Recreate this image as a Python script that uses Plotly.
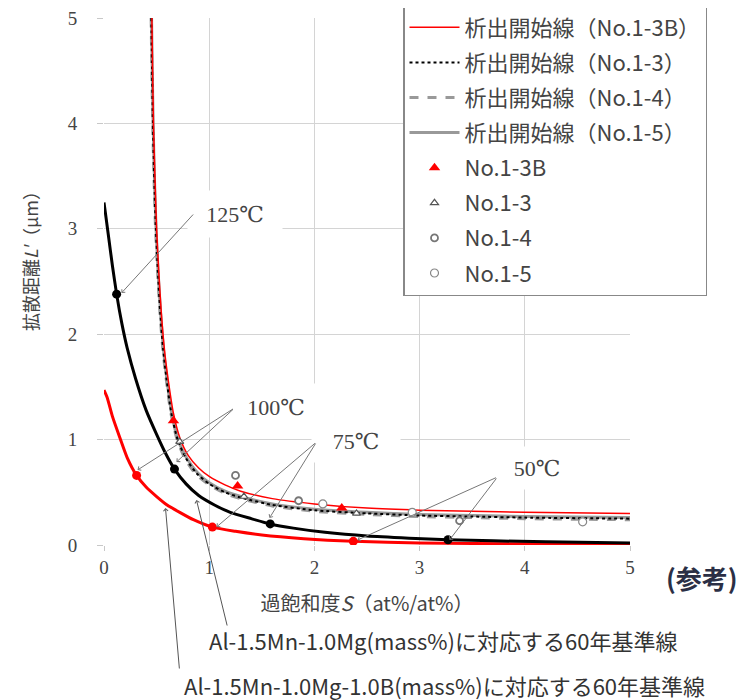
import plotly.graph_objects as go

# ---- data ----
# precipitation start lines (析出開始線)
s_3B = [0.455, 0.462, 0.47, 0.485, 0.50, 0.52, 0.545, 0.575, 0.61, 0.66, 0.72, 0.80, 0.90, 1.0, 1.15, 1.3, 1.6, 2.0, 2.5, 3.0, 3.5, 4.0, 5.0]
l_3B = [5.0, 4.5, 4.0, 3.46, 3.0, 2.6, 2.2, 1.85, 1.57, 1.25, 1.02, 0.85, 0.73, 0.65, 0.57, 0.51, 0.44, 0.39, 0.35, 0.33, 0.32, 0.31, 0.30]

s_3 = [0.45, 0.457, 0.465, 0.478, 0.493, 0.512, 0.535, 0.563, 0.595, 0.64, 0.70, 0.78, 0.88, 1.0, 1.15, 1.3, 1.6, 2.0, 2.5, 3.0, 3.5, 4.0, 5.0]
l_3 = [5.0, 4.5, 4.0, 3.46, 3.0, 2.6, 2.2, 1.85, 1.57, 1.25, 1.0, 0.82, 0.68, 0.58, 0.50, 0.45, 0.38, 0.33, 0.30, 0.28, 0.27, 0.26, 0.25]

s_4 = [0.448, 0.455, 0.463, 0.476, 0.49, 0.509, 0.532, 0.56, 0.592, 0.636, 0.695, 0.775, 0.875, 1.0, 1.15, 1.3, 1.6, 2.0, 2.5, 3.0, 3.5, 4.0, 5.0]
l_4 = [5.0, 4.5, 4.0, 3.46, 3.0, 2.6, 2.2, 1.85, 1.57, 1.25, 1.0, 0.81, 0.67, 0.57, 0.49, 0.44, 0.37, 0.32, 0.29, 0.27, 0.26, 0.25, 0.24]

s_5 = [0.452, 0.459, 0.467, 0.48, 0.495, 0.514, 0.538, 0.566, 0.598, 0.643, 0.703, 0.783, 0.885, 1.0, 1.15, 1.3, 1.6, 2.0, 2.5, 3.0, 3.5, 4.0, 5.0]
l_5 = [5.0, 4.5, 4.0, 3.46, 3.0, 2.6, 2.2, 1.85, 1.57, 1.25, 1.0, 0.83, 0.69, 0.59, 0.51, 0.46, 0.39, 0.34, 0.31, 0.29, 0.28, 0.27, 0.26]

# 60-year reference lines
s_ref_mg = [0.0, 0.04, 0.08, 0.12, 0.17, 0.22, 0.3, 0.4, 0.5, 0.58, 0.67, 0.78, 0.9, 1.05, 1.2, 1.4, 1.58, 1.8, 2.1, 2.5, 2.9, 3.27, 3.7, 4.2, 5.0]
l_ref_mg = [3.25, 2.95, 2.65, 2.38, 2.1, 1.87, 1.58, 1.28, 1.05, 0.88, 0.72, 0.58, 0.47, 0.38, 0.31, 0.25, 0.20, 0.16, 0.12, 0.085, 0.065, 0.05, 0.04, 0.03, 0.02]

s_ref_b = [0.0, 0.03, 0.08, 0.15, 0.22, 0.31, 0.4, 0.5, 0.6, 0.72, 0.85, 1.03, 1.25, 1.5, 1.9, 2.37, 3.0, 4.0, 5.0]
l_ref_b = [1.47, 1.40, 1.22, 1.02, 0.83, 0.66, 0.55, 0.46, 0.38, 0.31, 0.24, 0.17, 0.13, 0.095, 0.06, 0.035, 0.02, 0.012, 0.01]

# temperature points on the reference lines
s_dot_mg = [0.12, 0.67, 1.58, 3.27]
l_dot_mg = [2.38, 0.72, 0.20, 0.05]
s_dot_b = [0.31, 1.03, 2.37]
l_dot_b = [0.66, 0.17, 0.035]

# measured points
s_p3B = [0.66, 1.27, 2.26]
l_p3B = [1.18, 0.56, 0.35]
s_p3 = [0.72, 1.33, 2.4]
l_p3 = [0.98, 0.46, 0.30]
s_p4 = [1.25, 1.85, 3.38]
l_p4 = [0.66, 0.42, 0.23]
s_p5 = [2.08, 2.93, 4.55]
l_p5 = [0.39, 0.31, 0.22]

tick_vals = [0, 1, 2, 3, 4, 5]
tick_text = ["0", "1", "2", "3", "4", "5"]

JP = "Noto Sans CJK JP"
SERIF = "Liberation Serif, DejaVu Serif, Noto Sans CJK JP"

fig = go.Figure()

def line(s, l, name, color, width, dash, rank, group, show=True):
    fig.add_trace(go.Scatter(x=s, y=l, mode="lines", name=name, legendrank=rank,
                             legendgroup=group, showlegend=show,
                             line=dict(color=color, width=width, dash=dash, shape="spline", smoothing=0.6)))

# draw order (bottom to top)
line(s_ref_b, l_ref_b, "Al-1.5Mn-1.0Mg-1.0B 60年基準線", "#ff0000", 3, "solid", 900, "rb", False)
line(s_ref_mg, l_ref_mg, "Al-1.5Mn-1.0Mg 60年基準線", "#000000", 3, "solid", 901, "rm", False)
line(s_5, l_5, "析出開始線（No.1-5）", "#999999", 3, "solid", 4, "g4")
line(s_4, l_4, "析出開始線（No.1-4）", "#999999", 3, "dash", 3, "g3")
line(s_3, l_3, "析出開始線（No.1-3）", "#000000", 2, "dot", 2, "g2")
line(s_3B, l_3B, "析出開始線（No.1-3B）", "#ff0000", 1.5, "solid", 1, "g1")

fig.add_trace(go.Scatter(x=s_dot_b, y=l_dot_b, mode="markers", showlegend=False,
                         marker=dict(color="#ff0000", size=9, symbol="circle")))
fig.add_trace(go.Scatter(x=s_dot_mg, y=l_dot_mg, mode="markers", showlegend=False,
                         marker=dict(color="#000000", size=9, symbol="circle")))

fig.add_trace(go.Scatter(x=s_p3B, y=l_p3B, mode="markers", name="No.1-3B", legendrank=5, legendgroup="g5",
                         marker=dict(color="#ff0000", size=10, symbol="triangle-up")))
fig.add_trace(go.Scatter(x=s_p3, y=l_p3, mode="markers", name="No.1-3", legendrank=6, legendgroup="g6",
                         marker=dict(color="white", size=7, symbol="triangle-up",
                                     line=dict(color="#555555", width=1.2))))
fig.add_trace(go.Scatter(x=s_p4, y=l_p4, mode="markers", name="No.1-4", legendrank=7, legendgroup="g7",
                         marker=dict(color="white", size=7, symbol="circle",
                                     line=dict(color="#777777", width=1.8))))
fig.add_trace(go.Scatter(x=s_p5, y=l_p5, mode="markers", name="No.1-5", legendrank=8, legendgroup="g8",
                         marker=dict(color="white", size=8, symbol="circle",
                                     line=dict(color="#888888", width=1.2))))

# page-pixel -> data / paper helpers (plot area: x 104..630, y 18..545 on the page)
X0, XU = 104.5, 105.2
Y0, YU = 545.0, 105.4
def dx(px):
    return (px - X0) / XU
def dy(py):
    return (Y0 - py) / YU
def paper_x(px):
    return (px - 104) / 526
def paper_y(py):
    return (545 - py) / 527

anns = []
labels = [("125℃", 235, 214, 92, 44), ("100℃", 276, 407, 84, 44),
          ("75℃", 356, 441, 86, 40), ("50℃", 537, 468, 80, 40)]
for t, px, py, w, h in labels:
    anns.append(dict(x=dx(px), y=dy(py), xref="x", yref="y", text=t, showarrow=False,
                     bgcolor="white", width=w, height=h,
                     font=dict(family=SERIF, size=22, color="#444444")))

arrows = [((195, 213), (122, 293)),
          ((235, 408), (138, 470)), ((235, 408), (177, 462)),
          ((317, 442), (217, 527)), ((317, 442), (270, 518)),
          ((498, 477), (358, 540)), ((498, 477), (450, 540))]
for (tx, ty), (hx, hy) in arrows:
    anns.append(dict(x=dx(hx), y=dy(hy), ax=dx(tx), ay=dy(ty), xref="x", yref="y",
                     axref="x", ayref="y", text="", showarrow=True,
                     arrowhead=4, arrowsize=0.9, arrowwidth=1, arrowcolor="#777777"))

# leader lines from the bottom captions
for (hx, hy), (tx, ty) in [((166, 508), (180, 670)), ((197, 500), (228, 627))]:
    anns.append(dict(x=dx(hx), y=dy(hy), ax=tx - hx, ay=ty - hy, xref="x", yref="y",
                     text="", showarrow=True, arrowhead=4, arrowsize=0.9,
                     arrowwidth=1, arrowcolor="#555555"))

anns.append(dict(x=paper_x(443), y=paper_y(640), xref="paper", yref="paper",
                 text="Al-1.5Mn-1.0Mg(mass%)に対応する60年基準線",
                 showarrow=False, font=dict(family=JP, size=22, color="#333333"),
                 xanchor="center", yanchor="middle"))
anns.append(dict(x=paper_x(444), y=paper_y(685), xref="paper", yref="paper",
                 text="Al-1.5Mn-1.0Mg-1.0B(mass%)に対応する60年基準線",
                 showarrow=False, font=dict(family=JP, size=22, color="#333333"),
                 xanchor="center", yanchor="middle"))
anns.append(dict(x=paper_x(702), y=paper_y(577), xref="paper", yref="paper", text="<b>(参考)</b>",
                 showarrow=False, font=dict(family=JP, size=26, color="#2b2f45"),
                 xanchor="center", yanchor="middle"))
anns.append(dict(x=paper_x(30), y=paper_y(257), xref="paper", yref="paper", text="拡散距離<i>L'</i>（μm）",
                 textangle=-90, showarrow=False, font=dict(family=JP, size=18, color="#444444"),
                 xanchor="center", yanchor="middle"))

# the page adds an 8 px body margin, so the figure is drawn 8 px smaller and shifted
fig.update_layout(
    width=736, height=692,
    margin=dict(l=96, r=114, t=10, b=155, autoexpand=False),
    paper_bgcolor="white", plot_bgcolor="white",
    showlegend=True,
    legend=dict(x=paper_x(403), y=1 + 13 / 527, xanchor="left", yanchor="top",
                bgcolor="white", bordercolor="#888888", borderwidth=1.5,
                font=dict(family=JP, size=22, color="#444444"),
                itemwidth=50, tracegroupgap=3.5, traceorder="grouped"),
    annotations=anns,
    xaxis=dict(range=[0, 5], tickvals=tick_vals, ticktext=tick_text, showgrid=True,
               gridcolor="#d4d4d4", gridwidth=1, zeroline=False, showline=False,
               ticks="outside", ticklen=5, tickcolor="#c8c8c8", ticklabeloverflow="allow",
               tickfont=dict(family=SERIF, size=19, color="#444444"),
               title=dict(text="過飽和度<i>S</i>（at%/at%）", font=dict(family=JP, size=20, color="#444444"), standoff=20)),
    yaxis=dict(range=[0, 5], tickvals=tick_vals, ticktext=tick_text, showgrid=True,
               gridcolor="#d4d4d4", gridwidth=1, zeroline=False, showline=False,
               ticks="outside", ticklen=6, tickcolor="#c8c8c8", ticklabelstandoff=16,
               ticklabeloverflow="allow",
               tickfont=dict(family=SERIF, size=19, color="#444444")),
)

fig.write_html("out.html")
